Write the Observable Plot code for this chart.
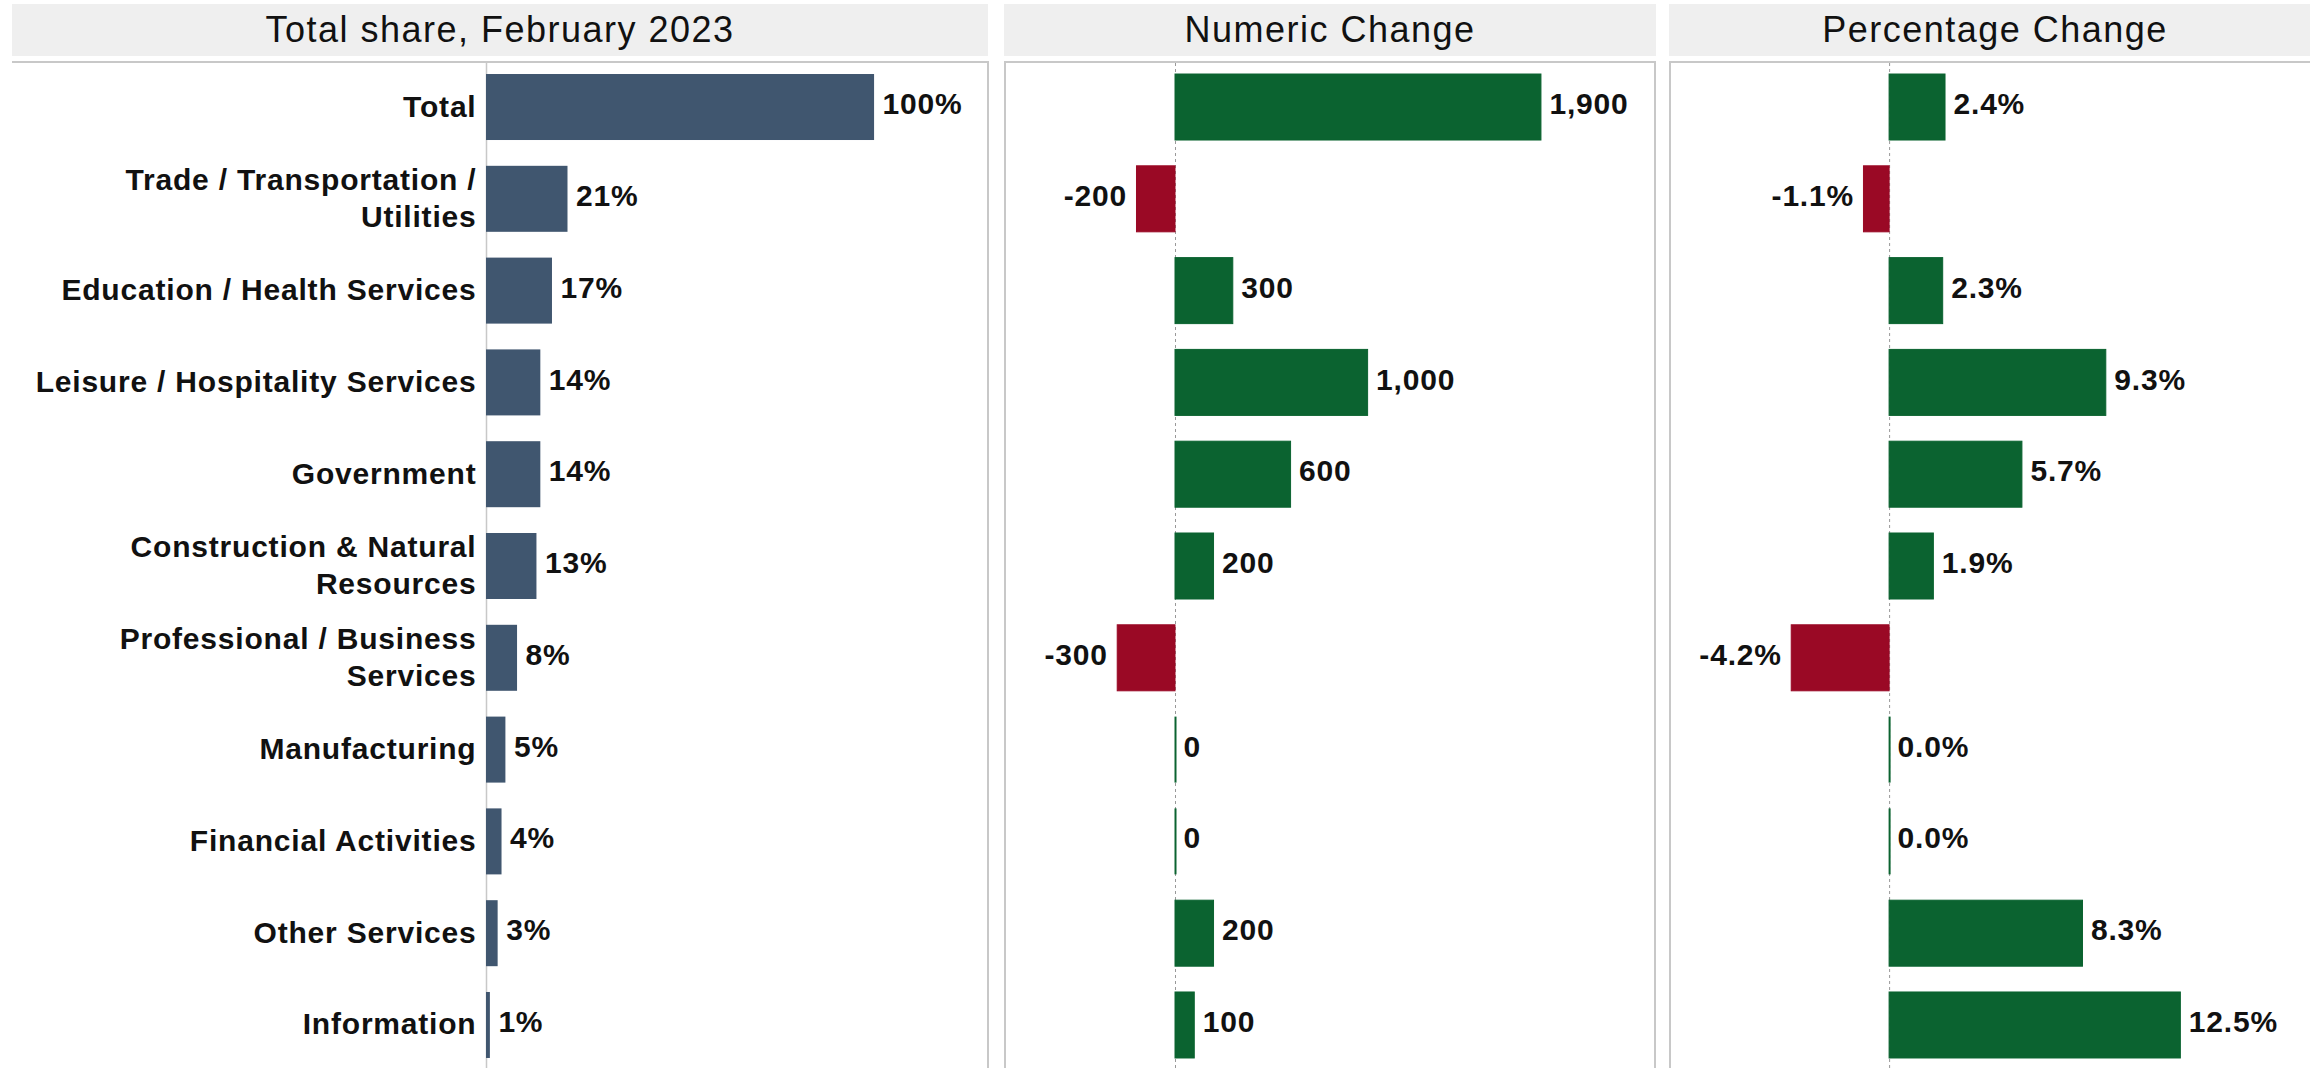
<!DOCTYPE html>
<html><head><meta charset="utf-8">
<script src="https://cdn.jsdelivr.net/npm/d3@7"></script>
<script src="https://cdn.jsdelivr.net/npm/@observablehq/plot@0.6"></script>
<style>
html,body{margin:0;padding:0;width:2310px;height:1068px;overflow:hidden;background:#fff;font-family:"Liberation Sans",Arial,sans-serif;}
.hdr{position:absolute;top:4px;height:52px;background:#efefef;display:flex;align-items:center;justify-content:center;font-size:36px;letter-spacing:1.5px;color:#111;white-space:nowrap;}
.pnl{position:absolute;top:61px;border-top:2px solid #c8c8c8;}
.pnl svg{display:block;}
</style></head><body>
<div class="hdr" style="left:12px;width:976px">Total share, February 2023</div>
<div class="hdr" style="left:1004px;width:652px">Numeric Change</div>
<div class="hdr" style="left:1669px;width:652px">Percentage Change</div>
<div class="pnl" id="p1" style="left:12px;width:975px;border-right:2px solid #c8c8c8;"></div>
<div class="pnl" id="p2" style="left:1004px;width:648px;border-left:2px solid #c8c8c8;border-right:2px solid #c8c8c8;"></div>
<div class="pnl" id="p3" style="left:1669px;width:648px;border-left:2px solid #c8c8c8;border-right:2px solid #c8c8c8;"></div>
<script>
const categories = ["Total","Trade / Transportation / Utilities","Education / Health Services","Leisure / Hospitality Services","Government","Construction & Natural Resources","Professional / Business Services","Manufacturing","Financial Activities","Other Services","Information"];
const tickLabels = ["Total","Trade / Transportation /\nUtilities","Education / Health Services","Leisure / Hospitality Services","Government","Construction & Natural\nResources","Professional / Business\nServices","Manufacturing","Financial Activities","Other Services","Information"];
const shareValues = [100,21,17,14,14,13,8,5,4,3,1];
const numericChange = [1900,-200,300,1000,600,200,-300,0,0,200,100];
const percentChange = [2.4,-1.1,2.3,9.3,5.7,1.9,-4.2,0.0,0.0,8.3,12.5];

const rows = categories.map((cat,i)=>({cat, share:shareValues[i], num:numericChange[i], pct:percentChange[i]}));
const SLATE="#40566f", GREEN="#0b6330", RED="#9a0925", TXT="#111";
const yOpts = {domain:categories, paddingInner:0.281, paddingOuter:0.12, align:0.5, round:false};
const baseStyle = {fontFamily:'"Liberation Sans",Arial,sans-serif', letterSpacing:"0.8px", background:"transparent", overflow:"visible"};
const H = 1006;
const lbl = {fontSize:30, fontWeight:"bold", fill:TXT, dy:-3};

const p1 = Plot.plot({
  width:975, height:H, marginLeft:474, marginRight:0, marginTop:0, marginBottom:0,
  x:{domain:[0,129.1], axis:null},
  y:yOpts,
  style:baseStyle,
  marks:[
    Plot.ruleX([0],{stroke:"#c8c8c8", strokeWidth:1.5}),
    Plot.barX(rows,{x:"share", y:"cat", fill:SLATE}),
    Plot.text(rows,{x:"share", y:"cat", text:d=>d.share+"%", textAnchor:"start", dx:8, ...lbl}),
    Plot.axisY({tickSize:0, tickPadding:10, tickFormat:c=>tickLabels[categories.indexOf(c)], lineHeight:1.25, ...lbl, label:null})
  ]
});
document.getElementById("p1").appendChild(p1);

const numFmt = v => d3.format(",")(v).replace("\u2212","-");
const p2 = Plot.plot({
  width:648, height:H, marginLeft:0, marginRight:0, marginTop:0, marginBottom:0,
  x:{domain:[-877.5,2487], axis:null},
  y:{...yOpts, axis:null},
  style:baseStyle,
  marks:[
    Plot.ruleX([0],{stroke:"#999", strokeWidth:1, strokeDasharray:"3,3"}),
    Plot.barX(rows,{x:"num", y:"cat", fill:d=>d.num<0?RED:GREEN, stroke:d=>d.num<0?RED:GREEN, strokeWidth:1}),
    Plot.tickX(rows,{filter:d=>d.num===0, x:"num", y:"cat", stroke:GREEN, strokeWidth:2}),
    Plot.text(rows,{filter:d=>d.num>=0, x:"num", y:"cat", text:d=>numFmt(d.num), textAnchor:"start", dx:8, ...lbl}),
    Plot.text(rows,{filter:d=>d.num<0, x:"num", y:"cat", text:d=>numFmt(d.num), textAnchor:"end", dx:-10, ...lbl})
  ]
});
document.getElementById("p2").appendChild(p2);

const pctFmt = v => v.toFixed(1)+"%";
const p3 = Plot.plot({
  width:648, height:H, marginLeft:0, marginRight:0, marginTop:0, marginBottom:0,
  x:{domain:[-9.36,18.45], axis:null},
  y:{...yOpts, axis:null},
  style:baseStyle,
  marks:[
    Plot.ruleX([0],{stroke:"#999", strokeWidth:1, strokeDasharray:"3,3"}),
    Plot.barX(rows,{x:"pct", y:"cat", fill:d=>d.pct<0?RED:GREEN, stroke:d=>d.pct<0?RED:GREEN, strokeWidth:1}),
    Plot.tickX(rows,{filter:d=>d.pct===0, x:"pct", y:"cat", stroke:GREEN, strokeWidth:2}),
    Plot.text(rows,{filter:d=>d.pct>=0, x:"pct", y:"cat", text:d=>pctFmt(d.pct), textAnchor:"start", dx:8, ...lbl}),
    Plot.text(rows,{filter:d=>d.pct<0, x:"pct", y:"cat", text:d=>pctFmt(d.pct), textAnchor:"end", dx:-10, ...lbl})
  ]
});
document.getElementById("p3").appendChild(p3);
</script>
</body></html>
